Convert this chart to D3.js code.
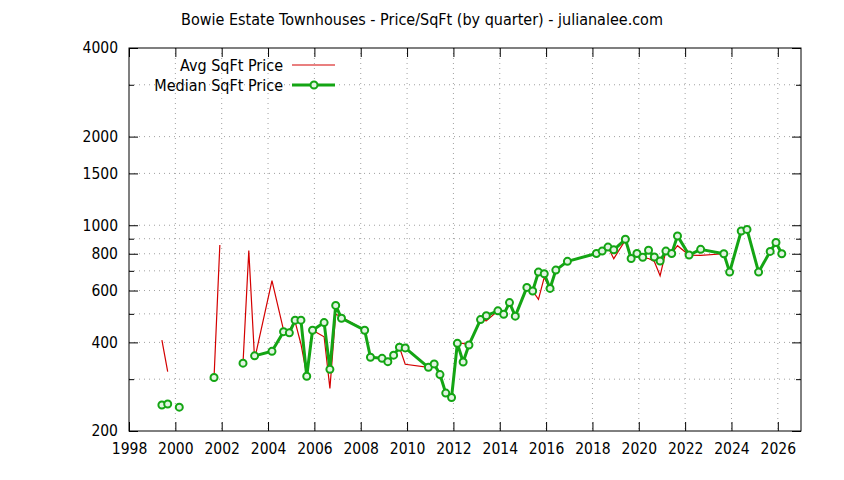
<!DOCTYPE html>
<html lang="en">
<head>
    <meta charset="utf-8">
    <title>Bowie Estate Townhouses - Price/SqFt</title>
    <script type="text/javascript" src="https://d3js.org/d3.v7.min.js"></script>
    <style>
        body { margin: 0; background: #fff; }
        text { font-family: "DejaVu Sans Condensed", "DejaVu Sans", sans-serif; font-stretch: condensed; font-size: 16px; fill: #000; }
        .grid line { stroke: #a0a0a0; stroke-width: 1; stroke-dasharray: 1, 4; }
        .axis path { display: none; }
        .axis line { stroke: #000; }
        .axis text { font-family: "DejaVu Sans Condensed", "DejaVu Sans", sans-serif; font-size: 15.5px; }
        .avg { fill: none; stroke: #d40000; stroke-width: 1.2; }
        .median { fill: none; stroke: #14a514; stroke-width: 3; stroke-linejoin: round; }
        .dots { fill: #e2f4e2; stroke: #14a514; stroke-width: 2; }
    </style>
</head>
<body>
<div id="container"></div>
<script type="text/javascript">
    // quarter (decimal year), null entries break the lines
    const quarters = [1999.42, 1999.67, 1999.92, 2000.17, 2000.42, 2001.67, 2001.92, 2002.42, 2002.92, 2003.17,
        2003.42, 2004.17, 2004.67, 2004.92, 2005.17, 2005.42, 2005.67, 2005.92, 2006.42, 2006.67,
        2006.92, 2007.17, 2008.17, 2008.42, 2008.92, 2009.17, 2009.42, 2009.67, 2009.92, 2010.92,
        2011.17, 2011.42, 2011.67, 2011.92, 2012.17, 2012.42, 2012.67, 2013.17, 2013.42, 2013.92,
        2014.17, 2014.42, 2014.67, 2015.17, 2015.42, 2015.67, 2015.92, 2016.17, 2016.42, 2016.92,
        2018.17, 2018.42, 2018.67, 2018.92, 2019.42, 2019.67, 2019.92, 2020.17, 2020.42, 2020.67,
        2020.92, 2021.17, 2021.42, 2021.67, 2022.17, 2022.67, 2023.67, 2023.92, 2024.42, 2024.67,
        2025.17, 2025.67, 2025.92, 2026.17];
    const avgPrice = [407, 318, null, null, null, 304, 857, null, 340, 820,
        350, 648, 440, 442, 470, 395, 310, 440, 418, 279,
        499, 488, 440, 356, 353, 344, 362, 385, 337, 329,
        338, 311, 269, 260, 397, 397, 392, 478, 473, 512,
        498, 546, 491, 615, 598, 560, 665, 610, 704, 754,
        802, 817, 843, 770, 890, 771, 802, 775, 771, 753,
        674, 817, 802, 852, 792, 790, 800, 693, 956, 968,
        693, 815, 874, 800];
    const medianPrice = [245, 247, null, 241, null, 304, null, null, 340, null,
        360, 373, 435, 431, 476, 476, 307, 440, 467, 324,
        534, 483, 440, 356, 353, 344, 362, 385, 383, 329,
        338, 311, 269, 260, 397, 343, 392, 478, 493, 512,
        498, 546, 491, 615, 598, 693, 684, 610, 704, 754,
        802, 817, 843, 825, 896, 771, 802, 778, 822, 780,
        756, 817, 802, 920, 792, 828, 800, 693, 956, 968,
        693, 815, 874, 800];
    const yearTicks = d3.range(1998, 2027, 2);
    const priceLabels = [200, 400, 600, 800, 1000, 1500, 2000, 4000];
    const priceMinor = [300, 500, 700, 900, 3000];
    const title = "Bowie Estate Townhouses - Price/SqFt (by quarter) - julianalee.com";
    const seriesNames = ["Avg SqFt Price", "Median SqFt Price"];

    const w = 844, h = 480;
    const pLeft = 129, pRight = 801, pTop = 48, pBottom = 431;

    const svg = d3.select("div#container").append("svg")
        .attr("width", w).attr("height", h);

    const x = d3.scaleLinear().domain([1998, 2027]).range([pLeft, pRight]);
    const y = d3.scaleLog().domain([200, 4000]).range([pBottom, pTop]);

    // grid
    const grid = svg.append("g").attr("class", "grid");
    grid.selectAll("line.gx").data(yearTicks.filter(d => d > 1998))
        .enter().append("line").attr("class", "gx")
        .attr("x1", d => x(d)).attr("x2", d => x(d))
        .attr("y1", pTop).attr("y2", pBottom);
    grid.selectAll("line.gy").data(priceLabels.concat(priceMinor).filter(d => d > 200 && d < 4000))
        .enter().append("line").attr("class", "gy")
        .attr("x1", pLeft).attr("x2", pRight)
        .attr("y1", d => y(d)).attr("y2", d => y(d));

    // axes, ticks pointing inward
    svg.append("g").attr("class", "axis")
        .attr("transform", "translate(0," + pBottom + ")")
        .call(d3.axisBottom(x).tickValues(yearTicks).tickFormat(d3.format("d")).tickSizeInner(-9).tickSizeOuter(0).tickPadding(12));
    svg.append("g").attr("class", "axis")
        .attr("transform", "translate(0," + pTop + ")")
        .call(d3.axisTop(x).tickValues(yearTicks).tickFormat("").tickSizeInner(-9).tickSizeOuter(0));
    svg.append("g").attr("class", "axis")
        .attr("transform", "translate(" + pLeft + ",0)")
        .call(d3.axisLeft(y).tickValues(priceLabels).tickFormat(d3.format("d")).tickSizeInner(-9).tickSizeOuter(0).tickPadding(11));
    svg.append("g").attr("class", "axis")
        .attr("transform", "translate(" + pLeft + ",0)")
        .call(d3.axisLeft(y).tickValues(priceMinor).tickFormat("").tickSizeInner(-5).tickSizeOuter(0));
    svg.append("g").attr("class", "axis")
        .attr("transform", "translate(" + pRight + ",0)")
        .call(d3.axisRight(y).tickValues(priceLabels).tickFormat("").tickSizeInner(-9).tickSizeOuter(0));
    svg.append("g").attr("class", "axis")
        .attr("transform", "translate(" + pRight + ",0)")
        .call(d3.axisRight(y).tickValues(priceMinor).tickFormat("").tickSizeInner(-5).tickSizeOuter(0));

    svg.append("rect")
        .attr("x", pLeft).attr("y", pTop)
        .attr("width", pRight - pLeft).attr("height", pBottom - pTop)
        .attr("fill", "none").attr("stroke", "#000");

    // series
    const rows = quarters.map((q, i) => ({q: q, avg: avgPrice[i], med: medianPrice[i]}));
    const avgLine = d3.line().defined(d => d.avg != null).x(d => x(d.q)).y(d => y(d.avg));
    const medLine = d3.line().defined(d => d.med != null).x(d => x(d.q)).y(d => y(d.med));

    svg.append("path").datum(rows).attr("class", "avg").attr("d", avgLine);
    svg.append("path").datum(rows).attr("class", "median").attr("d", medLine);
    svg.selectAll("circle.dots")
        .data(rows.filter(d => d.med != null))
        .enter().append("circle").attr("class", "dots")
        .attr("cx", d => x(d.q)).attr("cy", d => y(d.med)).attr("r", 3.5);

    // title
    svg.append("text").attr("x", w / 2).attr("y", 25)
        .attr("text-anchor", "middle").text(title);

    // legend
    const key = svg.append("g");
    key.append("text").attr("x", 283).attr("y", 71).attr("text-anchor", "end").text(seriesNames[0]);
    key.append("line").attr("class", "avg").attr("x1", 292).attr("x2", 335).attr("y1", 65).attr("y2", 65);
    key.append("text").attr("x", 283).attr("y", 91).attr("text-anchor", "end").text(seriesNames[1]);
    key.append("line").attr("class", "median").attr("x1", 292).attr("x2", 335).attr("y1", 85).attr("y2", 85);
    key.append("circle").attr("class", "dots").attr("cx", 314).attr("cy", 85).attr("r", 3.5);
</script>
</body>
</html>
